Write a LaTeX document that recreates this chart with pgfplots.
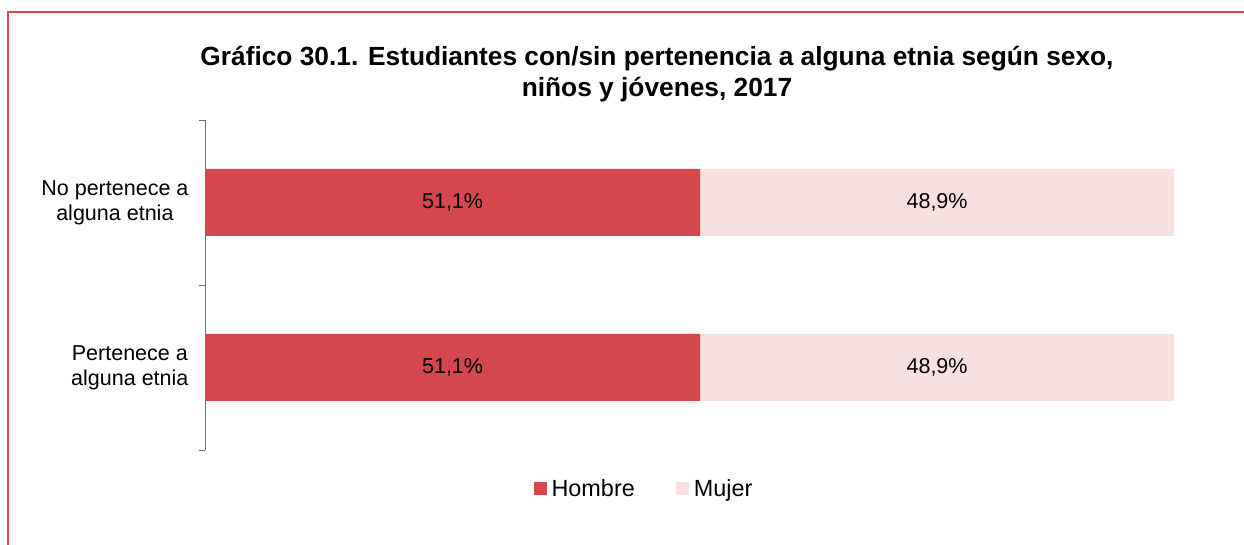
\documentclass[border=0pt]{standalone}
\usepackage{pgfplots}
\pgfplotsset{compat=1.18}
\usepackage{fontspec}
\setmainfont{Liberation Sans}

\definecolor{hombre}{RGB}{211,71,77}
\definecolor{mujer}{RGB}{248,223,224}
\definecolor{marco}{RGB}{222,70,76}

\begin{document}
\begin{tikzpicture}
% canvas 1244 x 545 px (1 px = 1 bp), y measured from the bottom
\path[use as bounding box] (0bp,0bp) rectangle (1244bp,545bp);
\draw[marco, line width=1.2bp] (8bp,0bp) -- (8bp,533bp) -- (1244bp,533bp);

% title
\node[font=\fontsize{26.4}{31}\selectfont\bfseries, align=center] at (657bp,471bp)
  {Gráfico 30.1. Estudiantes con/sin pertenencia a alguna etnia según sexo,\\niños y jóvenes, 2017};

\begin{axis}[
  at={(205bp,95bp)}, anchor=south west,
  scale only axis, width=969bp, height=330bp,
  xbar stacked, bar width=67bp,
  xmin=0, xmax=100,
  ymin=-0.5, ymax=1.5,
  axis x line=none,
  axis y line*=left,
  axis line style={gray!90!black, line width=0.9bp},
  ytick={0,1},
  yticklabels={{Pertenece a\\alguna etnia},{No pertenece a\\alguna etnia}},
  yticklabel style={align=center, font=\fontsize{21.6}{25}\selectfont, xshift=-13bp},
  major tick length=0pt,
  extra y ticks={-0.5,0.5,1.5},
  extra y tick labels={},
  extra y tick style={major tick length=6bp, tick align=outside, tick style={gray!90!black, line width=0.9bp}},
  /pgf/number format/assume math mode=true,
  point meta=rawx,
  nodes near coords={\pgfmathprintnumber[fixed,fixed zerofill,precision=1,use comma]{\pgfplotspointmeta}\%},
  every node near coord/.append style={font=\fontsize{21.6}{25}\selectfont, anchor=center},
  legend style={at={(0.453,-0.118)}, anchor=center, draw=none, fill=none,
    legend columns=-1, font=\fontsize{23.5}{27}\selectfont,
    /tikz/every even column/.append style={column sep=39bp}},
  legend image code/.code={\fill[#1] (0bp,-6.5bp) rectangle (13bp,6.5bp); \path (16bp,0bp);},
]
\addplot[fill=hombre, draw=none] coordinates {(51.1,0) (51.1,1)};
\addplot[fill=mujer, draw=none] coordinates {(48.9,0) (48.9,1)};
\legend{Hombre, Mujer}
\end{axis}
\end{tikzpicture}
\end{document}
